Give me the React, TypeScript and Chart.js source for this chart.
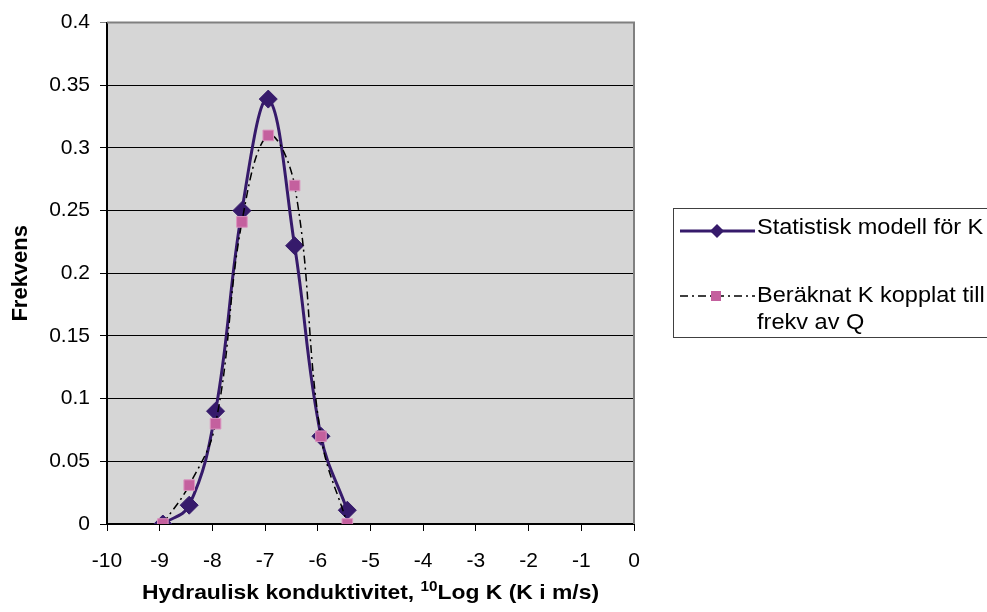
import React, { useEffect, useRef } from "react";
import { Chart, registerables } from "chart.js";

Chart.register(...registerables);

const xValues = [-8.94, -8.44, -7.94, -7.44, -6.94, -6.44, -5.94, -5.44];
const statistiskModell = [0, 0.015, 0.09, 0.25, 0.339, 0.222, 0.07, 0.011];
const beraknatK = [0, 0.031, 0.08, 0.241, 0.31, 0.27, 0.07, 0];
const xTicks = [-10, -9, -8, -7, -6, -5, -4, -3, -2, -1, 0];
const yTicks = [0, 0.05, 0.1, 0.15, 0.2, 0.25, 0.3, 0.35, 0.4];

const seriesNames = ["Statistisk modell för K", "Beräknat K kopplat till", "frekv av Q"];
const xTitle = ["Hydraulisk konduktivitet, ", "10", "Log K (K i m/s)"];
const yTitle = "Frekvens";

const PURPLE = "#361A6B";
const PINK = "#C4609E";
const FONT = "'Liberation Sans', Arial, sans-serif";
const DASH = [8, 4, 2, 4];

const decorPlugin = {
  id: "decor",
  beforeDraw(chart: any) {
    const { ctx, chartArea: a } = chart;
    ctx.save();
    ctx.fillStyle = "#D6D6D6";
    ctx.fillRect(a.left, a.top, a.right - a.left, a.bottom - a.top);
    ctx.restore();
  },
  afterDraw(chart: any) {
    const { ctx, chartArea: a } = chart;
    ctx.save();
    // top & right border
    ctx.strokeStyle = "#808080";
    ctx.lineWidth = 2;
    ctx.beginPath();
    ctx.moveTo(a.left, a.top);
    ctx.lineTo(a.right, a.top);
    ctx.lineTo(a.right, a.bottom);
    ctx.stroke();

    // y title
    ctx.fillStyle = "#000";
    ctx.font = `bold 22px ${FONT}`;
    ctx.textAlign = "center";
    ctx.textBaseline = "middle";
    ctx.save();
    ctx.translate(21, (a.top + a.bottom) / 2);
    ctx.rotate(-Math.PI / 2);
    ctx.fillText(yTitle, 0, 0);
    ctx.restore();

    // x title with superscript (slightly stretched horizontally)
    const sx = 1.09;
    const big = `bold 21px ${FONT}`;
    const small = `bold 14px ${FONT}`;
    ctx.textAlign = "left";
    ctx.textBaseline = "alphabetic";
    ctx.font = big;
    const w1 = ctx.measureText(xTitle[0]).width;
    const w3 = ctx.measureText(xTitle[2]).width;
    ctx.font = small;
    const w2 = ctx.measureText(xTitle[1]).width;
    const total = w1 + w2 + w3;
    ctx.save();
    ctx.translate((a.left + a.right) / 2 - (total * sx) / 2, 599);
    ctx.scale(sx, 1);
    let x = 0;
    ctx.font = big;
    ctx.fillText(xTitle[0], x, 0);
    x += w1;
    ctx.font = small;
    ctx.fillText(xTitle[1], x, -8);
    x += w2;
    ctx.font = big;
    ctx.fillText(xTitle[2], x, 0);
    ctx.restore();

    // legend
    ctx.strokeStyle = "#404040";
    ctx.lineWidth = 1;
    ctx.strokeRect(673.5, 208.5, 400, 129);

    ctx.strokeStyle = PURPLE;
    ctx.lineWidth = 3;
    ctx.beginPath();
    ctx.moveTo(680, 231);
    ctx.lineTo(755, 231);
    ctx.stroke();
    ctx.fillStyle = PURPLE;
    ctx.beginPath();
    ctx.moveTo(717, 224);
    ctx.lineTo(724, 231);
    ctx.lineTo(717, 238);
    ctx.lineTo(710, 231);
    ctx.closePath();
    ctx.fill();

    ctx.strokeStyle = "#000";
    ctx.lineWidth = 1.5;
    ctx.setLineDash(DASH);
    ctx.beginPath();
    ctx.moveTo(680, 296);
    ctx.lineTo(755, 296);
    ctx.stroke();
    ctx.setLineDash([]);
    ctx.fillStyle = PINK;
    ctx.fillRect(711, 291, 10, 10);

    ctx.fillStyle = "#000";
    ctx.font = `22px ${FONT}`;
    ctx.textAlign = "left";
    ctx.textBaseline = "middle";
    const lx = 1.07;
    const rows: [string, number][] = [
      [seriesNames[0], 228],
      [seriesNames[1], 296],
      [seriesNames[2], 323],
    ];
    for (const [t, y] of rows) {
      ctx.save();
      ctx.translate(757, y);
      ctx.scale(lx, 1);
      ctx.fillText(t, 0, 0);
      ctx.restore();
    }
    ctx.restore();
  },
};

export default function App() {
  const ref = useRef<HTMLCanvasElement | null>(null);
  useEffect(() => {
    document.body.style.margin = "0";
    const canvas = ref.current!;
    const chart = new Chart(canvas, {
      type: "scatter",
      data: {
        datasets: [
          {
            label: seriesNames[0],
            data: xValues.map((x, i) => ({ x, y: statistiskModell[i] })),
            showLine: true,
            borderColor: PURPLE,
            borderWidth: 3,
            backgroundColor: PURPLE,
            pointStyle: "rectRot",
            pointRadius: 9,
            pointBorderWidth: 1,
            pointBorderColor: PURPLE,
            tension: 0.4,
            order: 2,
          },
          {
            label: seriesNames[1] + " " + seriesNames[2],
            data: xValues.map((x, i) => ({ x, y: beraknatK[i] })),
            showLine: true,
            borderColor: "#000",
            borderWidth: 1.5,
            borderDash: DASH,
            backgroundColor: PINK,
            pointStyle: "rect",
            pointRadius: 7.5,
            pointBorderWidth: 1,
            pointBorderColor: "#DA93BF",
            tension: 0.4,
            order: 1,
          },
        ],
      },
      options: {
        animation: false,
        responsive: false,
        maintainAspectRatio: false,
        layout: { padding: { top: 22, right: 987 - 634, left: 0, bottom: 0 } },
        plugins: { legend: { display: false }, tooltip: { enabled: false } },
        scales: {
          x: {
            type: "linear",
            min: -10,
            max: 0,
            afterFit: (s: any) => { s.height = 612 - 524; },
            afterBuildTicks: (s: any) => { s.ticks = xTicks.map((v) => ({ value: v })); },
            ticks: {
              color: "#000",
              font: { family: FONT, size: 21 },
              padding: 18,
              maxRotation: 0,
              callback: (v: any) => String(v),
            },
            grid: { drawOnChartArea: false, drawTicks: true, tickLength: 7, color: "#000" },
            border: { display: true, color: "#000", width: 2 },
          },
          y: {
            type: "linear",
            min: 0,
            max: 0.4,
            afterFit: (s: any) => { s.width = 107; },
            afterBuildTicks: (s: any) => { s.ticks = yTicks.map((v) => ({ value: v })); },
            ticks: {
              color: "#000",
              font: { family: FONT, size: 21 },
              padding: 10,
              callback: (v: any) => String(Number(Number(v).toFixed(2))),
            },
            grid: {
              drawTicks: true,
              tickLength: 7,
              color: (c: any) => (c.tick && c.tick.value === 0.4 ? "#808080" : "#000"),
              lineWidth: 1,
            },
            border: { display: true, color: "#000", width: 2 },
          },
        },
      },
      plugins: [decorPlugin],
    });
    return () => chart.destroy();
  }, []);
  return (
    <div style={{ width: 987, height: 612 }}>
      <canvas ref={ref} width={987} height={612} style={{ display: "block" }} />
    </div>
  );
}
